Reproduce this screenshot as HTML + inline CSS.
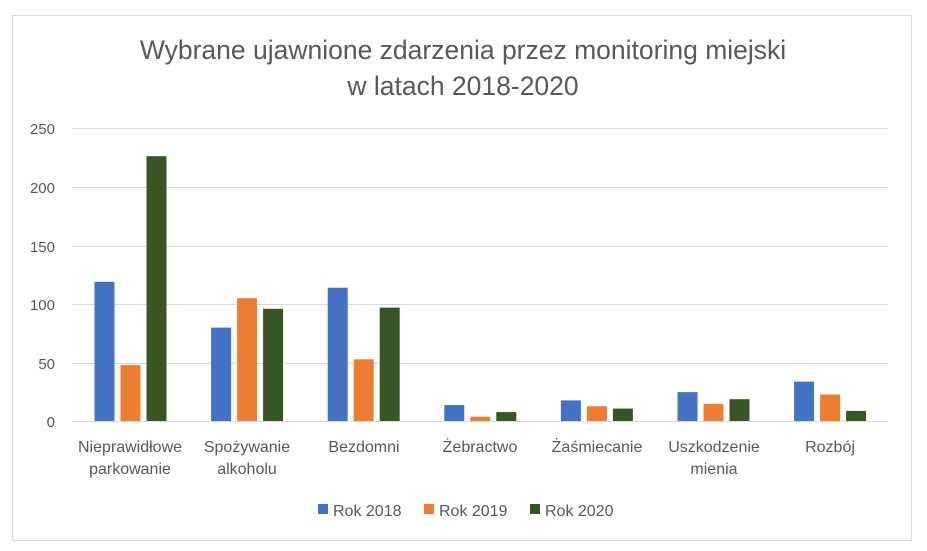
<!DOCTYPE html>
<html><head><meta charset="utf-8"><style>
html,body{margin:0;padding:0;background:#fff;}
svg{display:block;font-family:"Liberation Sans",sans-serif;}
</style></head><body>
<svg width="927" height="551" viewBox="0 0 927 551" xmlns="http://www.w3.org/2000/svg">
<rect x="12.5" y="15.5" width="899" height="525" fill="#fff" stroke="#d9d9d9" stroke-width="1"/>
<text x="463" y="59" text-anchor="middle" font-size="26.5" fill="#595959">Wybrane ujawnione zdarzenia przez monitoring miejski</text>
<text x="463" y="95" text-anchor="middle" font-size="26.5" fill="#595959">w latach 2018-2020</text>
<g stroke="#d9d9d9" stroke-width="1">
<line x1="72" x2="888" y1="128.5" y2="128.5"/>
<line x1="72" x2="888" y1="187.5" y2="187.5"/>
<line x1="72" x2="888" y1="246.5" y2="246.5"/>
<line x1="72" x2="888" y1="304.5" y2="304.5"/>
<line x1="72" x2="888" y1="363.5" y2="363.5"/>
</g>
<g font-size="15" fill="#595959" text-anchor="end">
<text x="55" y="134">250</text><text x="55" y="193">200</text><text x="55" y="252">150</text>
<text x="55" y="310">100</text><text x="55" y="369">50</text><text x="55" y="427">0</text>
</g>
<g>
<rect x="94.5" y="281.8" width="20" height="139.7" fill="#4472c4"/>
<rect x="120.5" y="365.1" width="20" height="56.4" fill="#ed7d31"/>
<rect x="146.5" y="156.2" width="20" height="265.3" fill="#375623"/>
<rect x="211.1" y="327.6" width="20" height="93.9" fill="#4472c4"/>
<rect x="237.1" y="298.2" width="20" height="123.3" fill="#ed7d31"/>
<rect x="263.1" y="308.8" width="20" height="112.7" fill="#375623"/>
<rect x="327.7" y="287.7" width="20" height="133.8" fill="#4472c4"/>
<rect x="353.7" y="359.3" width="20" height="62.2" fill="#ed7d31"/>
<rect x="379.7" y="307.6" width="20" height="113.9" fill="#375623"/>
<rect x="444.3" y="405.1" width="20" height="16.4" fill="#4472c4"/>
<rect x="470.3" y="416.8" width="20" height="4.7" fill="#ed7d31"/>
<rect x="496.3" y="412.1" width="20" height="9.4" fill="#375623"/>
<rect x="560.9" y="400.4" width="20" height="21.1" fill="#4472c4"/>
<rect x="586.9" y="406.2" width="20" height="15.3" fill="#ed7d31"/>
<rect x="612.9" y="408.6" width="20" height="12.9" fill="#375623"/>
<rect x="677.5" y="392.1" width="20" height="29.4" fill="#4472c4"/>
<rect x="703.5" y="403.9" width="20" height="17.6" fill="#ed7d31"/>
<rect x="729.5" y="399.2" width="20" height="22.3" fill="#375623"/>
<rect x="794.1" y="381.6" width="20" height="39.9" fill="#4472c4"/>
<rect x="820.1" y="394.5" width="20" height="27" fill="#ed7d31"/>
<rect x="846.1" y="410.9" width="20" height="10.6" fill="#375623"/>
</g>
<line x1="72" x2="888" y1="421.5" y2="421.5" stroke="#d9d9d9"/>
<g font-size="16" fill="#595959" text-anchor="middle">
<text x="130" y="452">Nieprawidłowe</text><text x="130" y="474">parkowanie</text>
<text x="247" y="452">Spożywanie</text><text x="247" y="474">alkoholu</text>
<text x="364" y="452">Bezdomni</text>
<text x="480" y="452">Żebractwo</text>
<text x="597" y="452">Żaśmiecanie</text>
<text x="714" y="452">Uszkodzenie</text><text x="714" y="474">mienia</text>
<text x="830" y="452">Rozbój</text>
</g>
<g font-size="16" fill="#595959">
<rect x="318" y="504" width="10" height="10" fill="#4472c4"/><text x="333" y="516">Rok 2018</text>
<rect x="424" y="504" width="10" height="10" fill="#ed7d31"/><text x="439" y="516">Rok 2019</text>
<rect x="530" y="504" width="10" height="10" fill="#375623"/><text x="545" y="516">Rok 2020</text>
</g>
</svg>
</body></html>
